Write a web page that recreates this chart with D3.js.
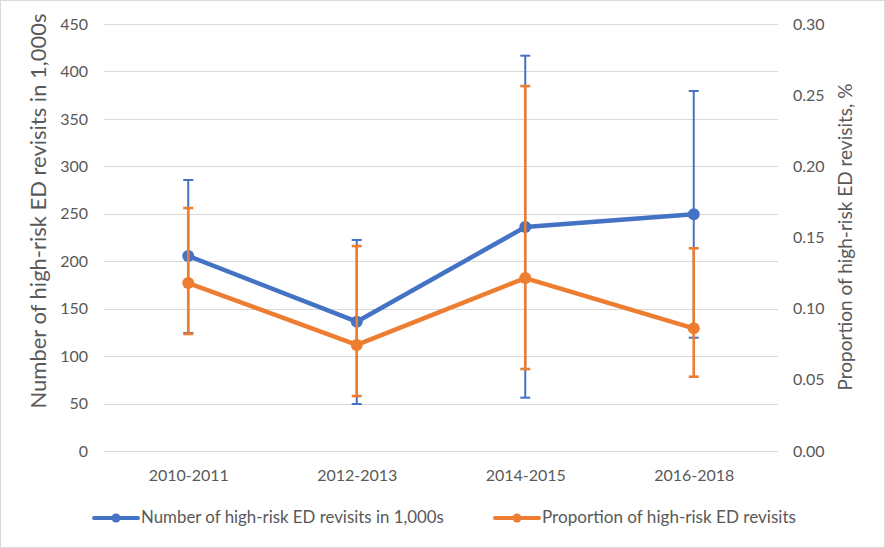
<!DOCTYPE html>
<html>
<head>
<meta charset="utf-8">
<script src="https://cdn.jsdelivr.net/npm/d3@7"></script>
<style>
  html, body { margin: 0; padding: 0; background: #fff; }
  svg { display: block; font-family: Lato, "Open Sans", sans-serif; }
</style>
</head>
<body>
<svg id="chart" width="885" height="548"></svg>
<script>
const categories = ["2010-2011", "2012-2013", "2014-2015", "2016-2018"];
const countValues = [205.5, 136.3, 236, 249.4];
const countLow = [124.4, 49.5, 56.2, 119.4];
const countHigh = [285.6, 222.4, 416.6, 379.4];
const propValues = [0.118, 0.0745, 0.1215, 0.0862];
const propLow = [0.0822, 0.0386, 0.0576, 0.0522];
const propHigh = [0.1707, 0.144, 0.2564, 0.1424];
const leftTicks = [0, 50, 100, 150, 200, 250, 300, 350, 400, 450];
const rightTicks = [0, 0.05, 0.10, 0.15, 0.20, 0.25, 0.30];
const seriesNames = ["Number of high-risk ED revisits in 1,000s", "Proportion of high-risk ED revisits"];
const leftTitle = "Number of high-risk ED revisits in 1,000s";
const rightTitle = "Proportion of high-risk ED revisits, %";

const W = 885, H = 548;
const plot = { left: 104, right: 778, top: 24, bottom: 451 };
const blue = "#4472C4", orange = "#ED7D31", textCol = "#595959", gridCol = "#d9d9d9";

const svg = d3.select("#chart");
svg.append("rect").attr("x", 0.5).attr("y", 0.5).attr("width", W - 1).attr("height", H - 1)
  .attr("fill", "#fff").attr("stroke", gridCol);

const x = d3.scalePoint().domain(categories).range([plot.left, plot.right]).padding(0.5);
const yL = d3.scaleLinear().domain([0, 450]).range([plot.bottom, plot.top]);
const yR = d3.scaleLinear().domain([0, 0.30]).range([plot.bottom, plot.top]);

// gridlines
svg.append("g").selectAll("line").data(leftTicks).join("line")
  .attr("x1", plot.left).attr("x2", plot.right)
  .attr("y1", d => Math.round(yL(d)) + 0.5).attr("y2", d => Math.round(yL(d)) + 0.5)
  .attr("stroke", gridCol).attr("stroke-width", 1);

// left axis
const axL = svg.append("g").attr("transform", `translate(${plot.left - 16},0)`)
  .call(d3.axisLeft(yL).tickValues(leftTicks).tickSize(0).tickPadding(0).tickFormat(d3.format("d")));
axL.select(".domain").remove();
axL.selectAll("text").attr("fill", textCol).style("font-size", "16px").style("font-family", "Lato");

// right axis
const axR = svg.append("g").attr("transform", `translate(${plot.right + 15},0)`)
  .call(d3.axisRight(yR).tickValues(rightTicks).tickSize(0).tickPadding(0).tickFormat(d3.format(".2f")));
axR.select(".domain").remove();
axR.selectAll("text").attr("fill", textCol).style("font-size", "16px").style("font-family", "Lato");

// x axis
const axX = svg.append("g").attr("transform", `translate(0,${plot.bottom})`)
  .call(d3.axisBottom(x).tickSize(0).tickPadding(19));
axX.select(".domain").remove();
axX.selectAll("text").attr("fill", textCol).style("font-size", "16px").style("font-family", "Lato");

// helper: fit text to width
function fit(sel, target, base) {
  sel.style("font-size", base + "px");
  const w = sel.node().getComputedTextLength();
  sel.style("font-size", (base * target / w).toFixed(2) + "px");
}

// axis titles
const lt = svg.append("text").attr("transform", "translate(46,211) rotate(-90)")
  .attr("text-anchor", "middle").attr("fill", textCol).text(leftTitle);
fit(lt, 395, 18);
const rt = svg.append("text").attr("transform", "translate(852,237) rotate(-90)")
  .attr("text-anchor", "middle").attr("fill", textCol).text(rightTitle);
fit(rt, 307, 18);

function drawSeries(vals, lo, hi, scale, color, ebWidth) {
  const g = svg.append("g");
  const idx = d3.range(categories.length);
  // line
  g.append("path").datum(idx)
    .attr("d", d3.line().x(i => x(categories[i])).y(i => scale(vals[i])))
    .attr("fill", "none").attr("stroke", color).attr("stroke-width", 4.5)
    .attr("stroke-linejoin", "round").attr("stroke-linecap", "round");
  g.selectAll("circle").data(idx).join("circle")
    .attr("cx", i => x(categories[i])).attr("cy", i => scale(vals[i])).attr("r", 6)
    .attr("fill", color);
  // error bars
  const eb = g.append("g").attr("stroke", color).attr("stroke-width", ebWidth);
  eb.selectAll("line.v").data(idx).join("line").attr("class", "v")
    .attr("x1", i => x(categories[i])).attr("x2", i => x(categories[i]))
    .attr("y1", i => scale(lo[i])).attr("y2", i => scale(hi[i]));
  eb.selectAll("line.t").data(idx).join("line").attr("class", "t")
    .attr("x1", i => x(categories[i]) - 5).attr("x2", i => x(categories[i]) + 5)
    .attr("y1", i => scale(hi[i])).attr("y2", i => scale(hi[i]));
  eb.selectAll("line.b").data(idx).join("line").attr("class", "b")
    .attr("x1", i => x(categories[i]) - 5).attr("x2", i => x(categories[i]) + 5)
    .attr("y1", i => scale(lo[i])).attr("y2", i => scale(lo[i]));
}
drawSeries(countValues, countLow, countHigh, yL, blue, 2);
drawSeries(propValues, propLow, propHigh, yR, orange, 2.6);

// legend
const legendItems = [
  { name: seriesNames[0], color: blue, x0: 94, target: 303 },
  { name: seriesNames[1], color: orange, x0: 495, target: 254 }
];
const lg = svg.append("g");
legendItems.forEach(d => {
  const g = lg.append("g");
  g.append("line").attr("x1", d.x0).attr("x2", d.x0 + 44).attr("y1", 518).attr("y2", 518)
    .attr("stroke", d.color).attr("stroke-width", 4).attr("stroke-linecap", "round");
  g.append("circle").attr("cx", d.x0 + 22).attr("cy", 518).attr("r", 4.5).attr("fill", d.color);
  const t = g.append("text").attr("x", d.x0 + 47).attr("y", 523).attr("fill", textCol).text(d.name);
  fit(t, d.target, 16);
});
</script>
</body>
</html>
